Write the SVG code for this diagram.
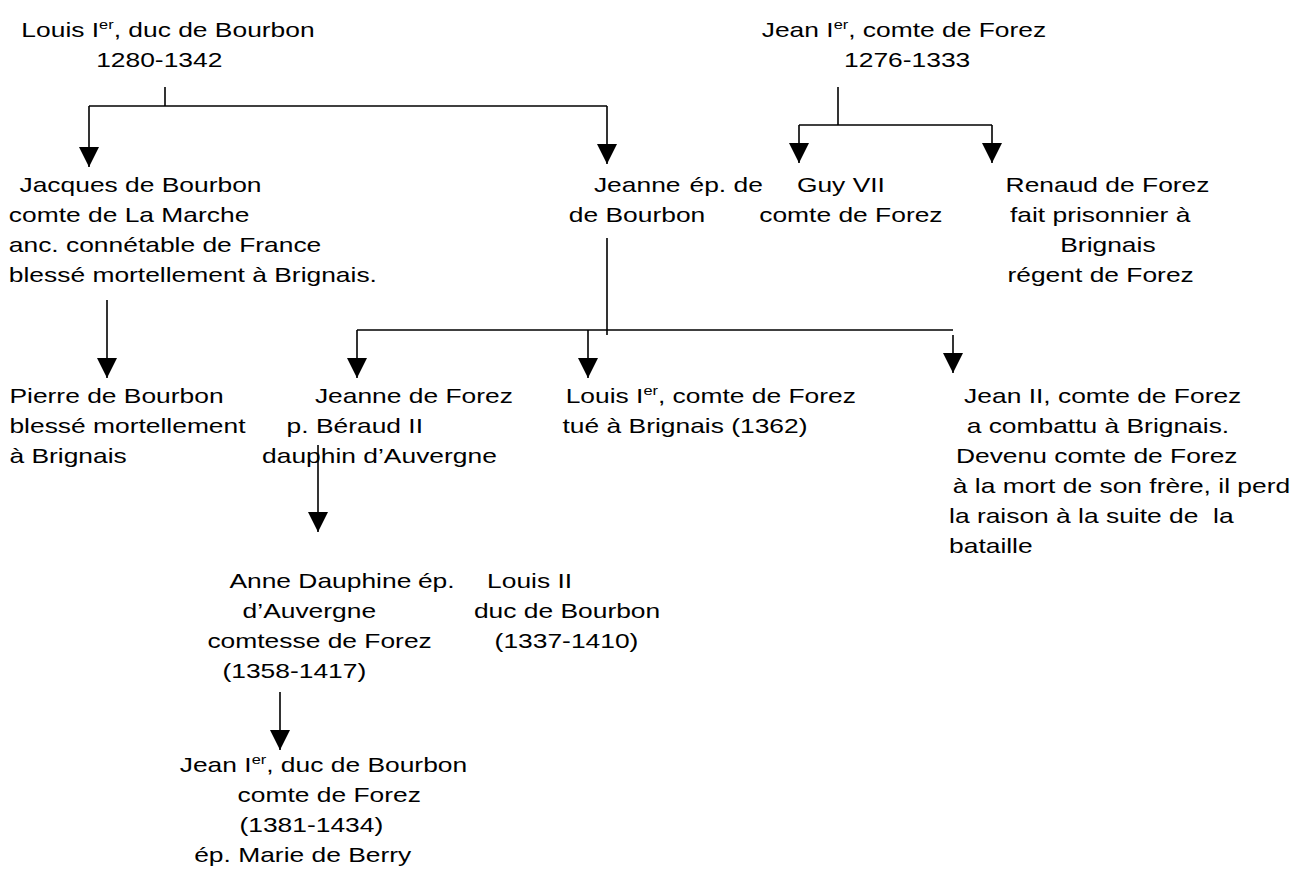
<svg xmlns="http://www.w3.org/2000/svg" width="1297" height="871" viewBox="0 0 1297 871">
<style>
text{font-family:"Liberation Sans",Arial,sans-serif;font-size:21px;fill:#000}
.sup{font-size:13px}
.ln{stroke:#000;stroke-width:1.6;fill:none}
</style>
<defs>
<marker id="ah" markerUnits="userSpaceOnUse" markerWidth="20" markerHeight="20" refX="20" refY="10" orient="auto">
<path d="M0,0 L20,10 L0,20 z" fill="#000"/>
</marker>
</defs>
<rect width="1297" height="871" fill="#fff"/>
<g id="connectors">
<line class="ln" x1="165" y1="87" x2="165" y2="106"/>
<line class="ln" x1="89" y1="106" x2="607" y2="106"/>
<line class="ln" x1="89" y1="106" x2="89" y2="167" marker-end="url(#ah)"/>
<line class="ln" x1="607" y1="106" x2="607" y2="164" marker-end="url(#ah)"/>
<line class="ln" x1="838" y1="87" x2="838" y2="125"/>
<line class="ln" x1="799" y1="125" x2="992" y2="125"/>
<line class="ln" x1="799" y1="125" x2="799" y2="163" marker-end="url(#ah)"/>
<line class="ln" x1="992" y1="125" x2="992" y2="163" marker-end="url(#ah)"/>
<line class="ln" x1="107" y1="300" x2="107" y2="378" marker-end="url(#ah)"/>
<line class="ln" x1="607" y1="238" x2="607" y2="335"/>
<line class="ln" x1="357" y1="330" x2="953" y2="330"/>
<line class="ln" x1="357" y1="330" x2="357" y2="378" marker-end="url(#ah)"/>
<line class="ln" x1="588" y1="330" x2="588" y2="378" marker-end="url(#ah)"/>
<line class="ln" x1="953" y1="335" x2="953" y2="373" marker-end="url(#ah)"/>
<line class="ln" x1="318" y1="445" x2="318" y2="532" marker-end="url(#ah)"/>
<line class="ln" x1="280" y1="692" x2="280" y2="750" marker-end="url(#ah)"/>
</g>
<g transform="scale(1.257 1)">
<g id="louis1">
<text x="17" y="37">Louis I<tspan class="sup" dy="-8">er</tspan><tspan dy="8">, duc de Bourbon</tspan></text>
<text x="76.5" y="67">1280-1342</text>
</g>
<g id="jean1">
<text x="606" y="37">Jean I<tspan class="sup" dy="-8">er</tspan><tspan dy="8">, comte de Forez</tspan></text>
<text x="671.5" y="67">1276-1333</text>
</g>
<g id="jacques">
<text x="15.5" y="192">Jacques de Bourbon</text>
<text x="7" y="222">comte de La Marche</text>
<text x="7" y="252">anc. connétable de France</text>
<text x="7" y="282">blessé mortellement à Brignais.</text>
</g>
<g id="jeanne_guy">
<text x="472.5" y="192">Jeanne</text>
<text x="548.5" y="192">ép. de</text>
<text x="634" y="192">Guy VII</text>
<text x="452.5" y="222">de Bourbon</text>
<text x="604" y="222">comte de Forez</text>
</g>
<g id="renaud">
<text x="800" y="192">Renaud de Forez</text>
<text x="803.5" y="222">fait prisonnier à</text>
<text x="843.5" y="252">Brignais</text>
<text x="801.5" y="282">régent de Forez</text>
</g>
<g id="pierre">
<text x="7.5" y="403">Pierre de Bourbon</text>
<text x="7.5" y="433">blessé mortellement</text>
<text x="7.5" y="463">à Brignais</text>
</g>
<g id="jeanne_forez">
<text x="250.5" y="403">Jeanne de Forez</text>
<text x="228" y="433">p. Béraud II</text>
<text x="208.5" y="463">dauphin d’Auvergne</text>
</g>
<g id="louis_forez">
<text x="450" y="403">Louis I<tspan class="sup" dy="-8">er</tspan><tspan dy="8">, comte de Forez</tspan></text>
<text x="447.5" y="433">tué à Brignais (1362)</text>
</g>
<g id="jean2">
<text x="767" y="403">Jean II, comte de Forez</text>
<text x="769" y="433">a combattu à Brignais.</text>
<text x="760.5" y="463">Devenu comte de Forez</text>
<text x="758" y="493">à la mort de son frère, il perd</text>
<text x="755" y="523" xml:space="preserve">la raison à la suite de  la</text>
<text x="755" y="553">bataille</text>
</g>
<g id="anne">
<text x="182.5" y="588">Anne Dauphine</text>
<text x="332.5" y="588">ép.</text>
<text x="387.5" y="588">Louis II</text>
<text x="193" y="618">d’Auvergne</text>
<text x="377" y="618">duc de Bourbon</text>
<text x="165" y="648">comtesse de Forez</text>
<text x="393.5" y="648">(1337-1410)</text>
<text x="177" y="678">(1358-1417)</text>
</g>
<g id="jean_bourbon">
<text x="143" y="772">Jean I<tspan class="sup" dy="-8">er</tspan><tspan dy="8">, duc de Bourbon</tspan></text>
<text x="189" y="802">comte de Forez</text>
<text x="190.5" y="832">(1381-1434)</text>
<text x="154.5" y="862">ép. Marie de Berry</text>
</g>
</g>
</svg>
